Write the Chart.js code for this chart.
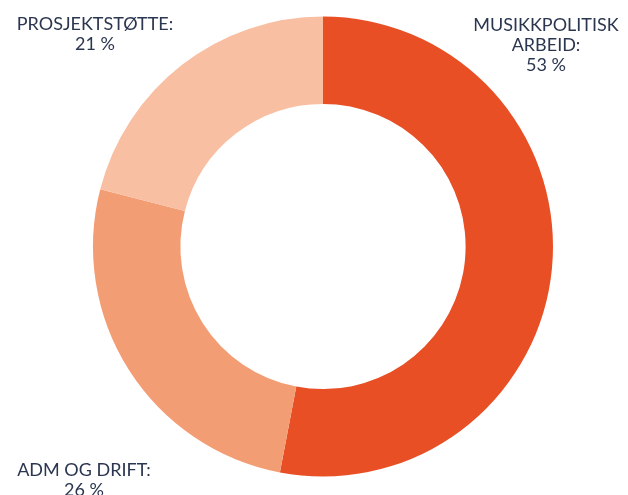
<!DOCTYPE html>
<html>
<head>
<meta charset="utf-8">
<script src="https://cdn.jsdelivr.net/npm/chart.js@4/dist/chart.umd.min.js"></script>
<style>
  html, body { margin: 0; padding: 0; background: #fff; }
  #wrap { width: 628px; height: 495px; }
</style>
</head>
<body>
<div id="wrap"><canvas id="kake"></canvas></div>
<script>
// fordeling av kostnader
const kategorier = ['MUSIKKPOLITISK ARBEID', 'ADM OG DRIFT', 'PROSJEKTSTØTTE'];
const andeler = [53, 26, 21];
const etikettLinjer = [
    ['MUSIKKPOLITISK', 'ARBEID:', '53 %'],
    ['ADM OG DRIFT:', '26 %'],
    ['PROSJEKTSTØTTE:', '21 %']
];
const farger = ['#E94F25', '#F39D74', '#F9BFA2'];

// hvor tekstene står (midten av første linje)
const etikettPlass = [[546, 25], [84, 470], [95, 24]];

const etiketter = {
    id: 'etiketter',
    afterDraw(chart) {
        const ctx = chart.ctx;
        ctx.save();
        ctx.fillStyle = '#2B3650';
        ctx.font = '400 18px Lato';
        ctx.textAlign = 'center';
        ctx.textBaseline = 'middle';
        for (let i = 0; i < etikettLinjer.length; i++) {
            const [x, y] = etikettPlass[i];
            etikettLinjer[i].forEach(function(linje, j) {
                ctx.fillText(linje, x, y + j * 20);
            });
        }
        ctx.restore();
    }
};

new Chart(document.getElementById('kake'), {
    type: 'doughnut',
    data: {
        labels: kategorier,
        datasets: [{
            data: andeler,
            backgroundColor: farger,
            borderWidth: 0
        }]
    },
    options: {
        responsive: true,
        maintainAspectRatio: false,
        animation: false,
        cutout: '62%',
        layout: { padding: { top: 16, bottom: 18, left: 93, right: 75 } },
        plugins: {
            legend: { display: false },
            tooltip: { enabled: false }
        }
    },
    plugins: [etiketter]
});
</script>
</body>
</html>
